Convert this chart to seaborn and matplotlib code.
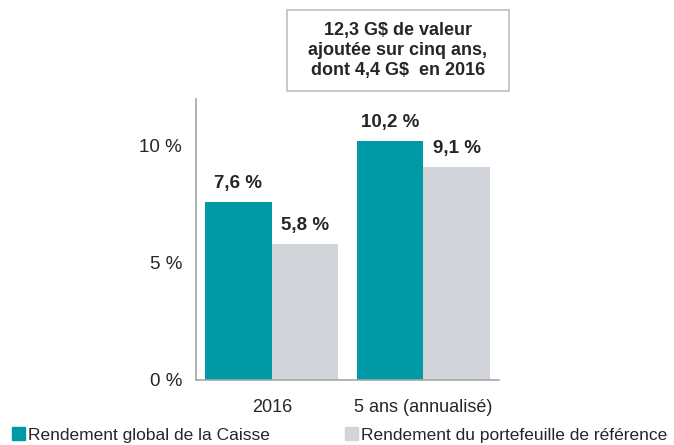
import pandas as pd
import seaborn as sns
import matplotlib.pyplot as plt
from matplotlib.patches import Patch, Rectangle

# données
periodes = ["2016", "5 ans (annualisé)"]
caisse = [7.6, 10.2]
reference = [5.8, 9.1]
series = ["Rendement global de la Caisse", "Rendement du portefeuille de référence"]
couleurs = ["#009AA6", "#D1D5D9"]

df = pd.DataFrame({
    "periode": periodes * 2,
    "serie": [series[0]] * 2 + [series[1]] * 2,
    "rendement": caisse + reference,
})

sns.set_style("white")
plt.rcParams['font.family'] = ['Liberation Sans', 'DejaVu Sans']

fig = plt.figure(figsize=(6.74, 4.45), dpi=100)
ax = fig.add_axes([0.2908, 0.1461, 0.4496, 0.6315])

sns.barplot(data=df, x="periode", y="rendement", hue="serie",
            palette=couleurs, width=0.88, ax=ax, legend=False,
            saturation=1, linewidth=0)

# étiquettes de valeur
for cont in ax.containers:
    ax.bar_label(cont, labels=[f"{v:.1f} %".replace(".", ",") for v in cont.datavalues],
                 padding=7, fontsize=13.5, fontweight="bold")

ax.set_ylim(0, 12)
ax.set_xlim(-0.5, 1.5)
ax.set_yticks([0, 5, 10])
ax.set_yticklabels(["0 %", "5 %", "10 %"], fontsize=13.5)
ax.set_xticks([-0.5, 0.5, 1.5], minor=True)
ax.set_xticks([0, 1])
ax.set_xticklabels(periodes, fontsize=13)
ax.tick_params(axis="x", which="major", length=0, pad=14)
ax.tick_params(axis="x", which="minor", length=6, color="#A6A6A6", width=1.2)
ax.tick_params(axis="y", length=6, color="#A6A6A6", width=1.2, pad=4)
ax.set_xlabel("")
ax.set_ylabel("")
sns.despine(ax=ax, top=True, right=True)
for s in ["left", "bottom"]:
    ax.spines[s].set_color("#A6A6A6")
    ax.spines[s].set_linewidth(1.2)

# encadré
fig.patches.append(Rectangle((0.4258, 0.7955), 0.3294, 0.182, transform=fig.transFigure,
                             fc="white", ec="#BFBFBF", lw=1.2))
fig.text(0.5905, 0.886, "12,3 G$ de valeur\najoutée sur cinq ans,\ndont 4,4 G$  en 2016",
         ha="center", va="center", fontsize=13, fontweight="bold", linespacing=1.25)

# légende
handles = [Patch(color=c) for c in couleurs]
fig.legend(handles, series, loc="lower left", bbox_to_anchor=(-0.006, -0.03), ncol=2,
           frameon=False, fontsize=12.5, handlelength=0.75, handleheight=0.75,
           handletextpad=0.2, columnspacing=4.3)

fig.savefig("out.png", dpi=100)
